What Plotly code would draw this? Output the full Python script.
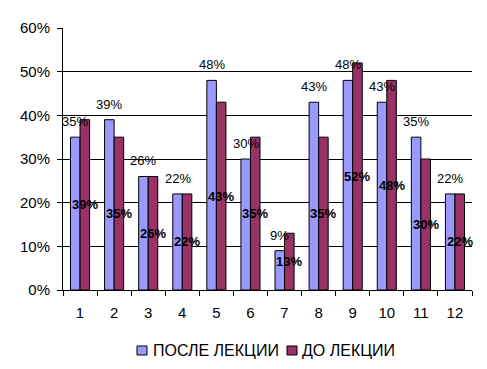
import plotly.graph_objects as go

categories = [1, 2, 3, 4, 5, 6, 7, 8, 9, 10, 11, 12]
after_lecture = [35, 39, 26, 22, 48, 30, 9, 43, 48, 43, 35, 22]
before_lecture = [39, 35, 26, 22, 43, 35, 13, 35, 52, 48, 30, 22]
series_names = ["ПОСЛЕ ЛЕКЦИИ", "ДО ЛЕКЦИИ"]
series_colors = ["#9999FF", "#993366"]
y_ticks = [0, 0.1, 0.2, 0.3, 0.4, 0.5, 0.6]

W = 0.28
FONT = "Liberation Sans, Arial, sans-serif"

fig = go.Figure()
fig.add_trace(go.Bar(
    x=categories, y=[v / 100 for v in after_lecture], name=series_names[0],
    width=W, offset=-W, showlegend=False,
    marker=dict(color=series_colors[0], line=dict(color="black", width=1)),
))
fig.add_trace(go.Bar(
    x=categories, y=[v / 100 for v in before_lecture], name=series_names[1],
    width=W, offset=0, showlegend=False,
    marker=dict(color=series_colors[1], line=dict(color="black", width=1)),
))

annotations = []
for c, v in zip(categories, after_lecture):
    annotations.append(dict(x=c - W / 2, y=v / 100, text=f"{v}%", showarrow=False,
                            yanchor="bottom", yshift=6,
                            font=dict(family=FONT, size=13, color="black")))
for c, v in zip(categories, before_lecture):
    annotations.append(dict(x=c + W / 2, y=v / 200, text=f"<b>{v}%</b>", showarrow=False,
                            yanchor="middle",
                            font=dict(family=FONT, size=13, color="black")))

# manual legend (Excel-style compact legend below the plot)
legend_items = [(0.1809, 0.2054, 0.2152), (0.5477, 0.5721, 0.5795)]
shapes = []
for (x0, x1, tx), name, col in zip(legend_items, series_names, series_colors):
    shapes.append(dict(type="rect", xref="paper", yref="paper", x0=x0, x1=x1,
                       y0=-0.2137, y1=-0.2481, fillcolor=col,
                       line=dict(color="black", width=1)))
    annotations.append(dict(x=tx, y=-0.2309, xref="paper", yref="paper", text=name,
                            showarrow=False, xanchor="left", yanchor="middle",
                            font=dict(family=FONT, size=16, color="black")))

fig.update_layout(
    width=479, height=361,
    margin=dict(l=55, r=15, t=20, b=79, autoexpand=False),
    paper_bgcolor="white", plot_bgcolor="white",
    font=dict(family=FONT, size=15, color="black"),
    barmode="overlay",
    annotations=annotations,
    shapes=shapes,
    showlegend=False,
    xaxis=dict(
        range=[0.5, 12.5], tickvals=categories, ticktext=[str(c) for c in categories],
        ticks="", showgrid=False, showline=True, linecolor="black", linewidth=1,
        zeroline=False, automargin=False, ticklabelstandoff=9,
        minor=dict(tickvals=[c - 0.5 for c in categories] + [12.5], ticks="outside",
                   ticklen=5, tickcolor="black", showgrid=False),
        tickfont=dict(family=FONT, size=15),
    ),
    yaxis=dict(
        range=[0, 0.6], tickvals=y_ticks, tickformat=".0%",
        showgrid=True, gridcolor="black", gridwidth=1,
        showline=True, linecolor="black", linewidth=1, zeroline=False,
        ticks="outside", ticklen=5, tickcolor="black", automargin=False,
        ticklabelstandoff=4,
        tickfont=dict(family=FONT, size=15),
    ),
)

fig.write_html("out.html")
